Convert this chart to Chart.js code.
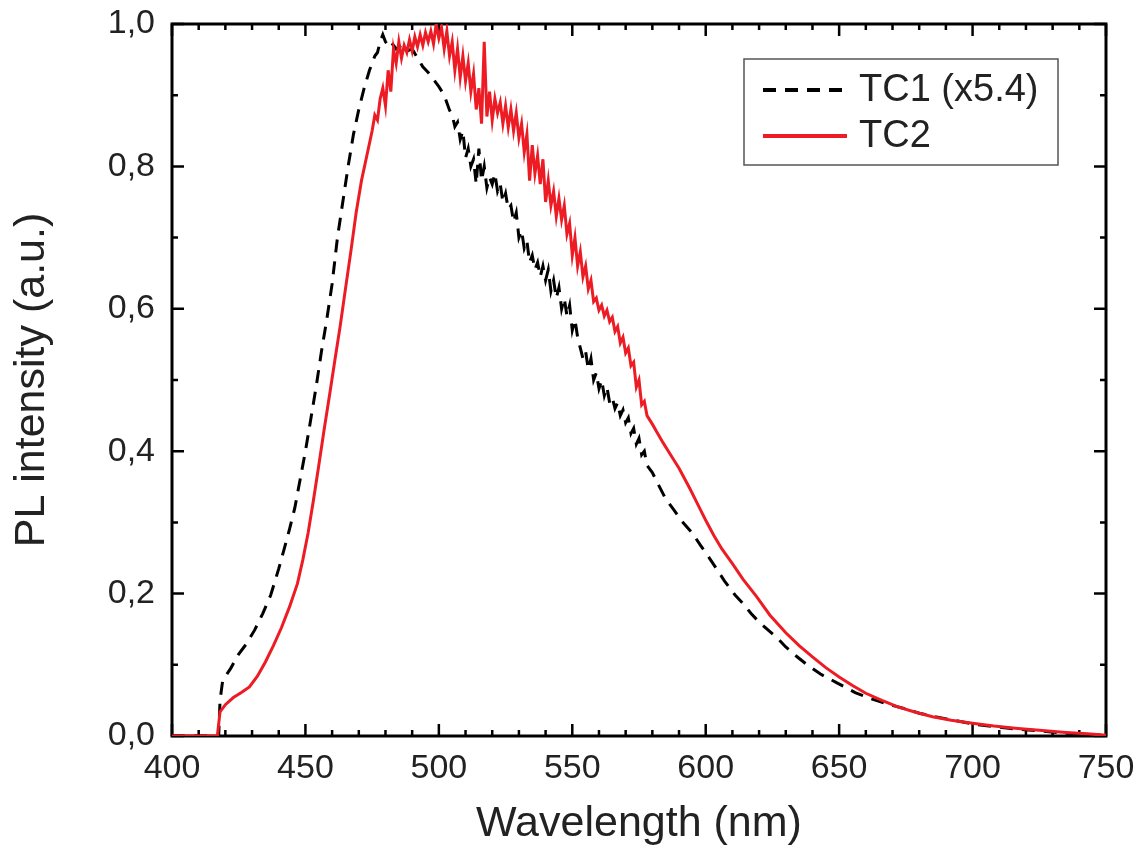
<!DOCTYPE html>
<html>
<head>
<meta charset="utf-8">
<title>PL spectra TC1 / TC2</title>
<script src="https://cdn.jsdelivr.net/npm/chart.js@4.4.1/dist/chart.umd.min.js"></script>
<style>
  html, body { margin: 0; padding: 0; background: #fff; }
  #plChart { display: block; }
</style>
</head>
<body>
<canvas id="plChart" width="1141" height="850"></canvas>
<script>
// values (wavelength in nm, intensity in a.u.)
const wlTC1 = [400, 417.5, 418, 419, 422, 425, 428, 431, 434, 437, 440, 442, 444, 446, 448, 450, 452, 454, 456, 458,
  460, 462, 464, 466, 468, 470, 472, 474, 476, 477, 478, 479, 480, 481, 482, 484, 486, 488, 490, 492,
  494, 496, 498, 500, 502, 504, 505, 506, 507, 508, 509, 510, 511, 512, 513, 514, 515, 516, 517, 518,
  519, 520, 521, 522, 523, 524, 525, 526, 527, 528, 529, 530, 531, 532, 533, 534, 535, 536, 537, 538,
  539, 540, 541, 542, 543, 544, 545, 546, 547, 548, 549, 550, 551, 552, 553, 554, 555, 556, 557, 558,
  559, 560, 561, 562, 563, 564, 565, 566, 567, 568, 569, 570, 571, 572, 573, 574, 575, 576, 577, 578,
  580, 582, 585, 588, 591, 595, 598, 601, 604, 607, 611, 614, 617, 620, 623, 627, 630, 634, 638, 643,
  649, 656, 663, 669, 675, 680, 686, 693, 700, 708, 716, 725, 735, 743, 750];
const tc1 = [0, 0, 0.05, 0.078, 0.095, 0.115, 0.13, 0.149, 0.172, 0.198, 0.235, 0.262, 0.29, 0.32, 0.36, 0.4, 0.445, 0.49, 0.54, 0.585,
  0.635, 0.7, 0.75, 0.8, 0.845, 0.88, 0.91, 0.935, 0.955, 0.96, 0.975, 0.985, 0.975, 0.97, 0.975, 0.965, 0.97, 0.962, 0.965, 0.952,
  0.94, 0.932, 0.922, 0.912, 0.9, 0.879, 0.872, 0.856, 0.862, 0.838, 0.85, 0.812, 0.825, 0.8, 0.81, 0.775, 0.825, 0.78, 0.8, 0.77,
  0.785, 0.775, 0.79, 0.765, 0.775, 0.75, 0.762, 0.74, 0.745, 0.722, 0.735, 0.7, 0.71, 0.685, 0.695, 0.665, 0.675, 0.655, 0.665, 0.645,
  0.66, 0.64, 0.655, 0.625, 0.64, 0.615, 0.63, 0.6, 0.615, 0.59, 0.605, 0.57, 0.585, 0.56, 0.545, 0.53, 0.54, 0.515, 0.53, 0.5,
  0.51, 0.488, 0.5, 0.478, 0.49, 0.468, 0.475, 0.46, 0.468, 0.45, 0.458, 0.44, 0.447, 0.425, 0.432, 0.41, 0.418, 0.395, 0.4, 0.38,
  0.37, 0.355, 0.333, 0.318, 0.302, 0.285, 0.268, 0.252, 0.235, 0.218, 0.198, 0.186, 0.172, 0.16, 0.15, 0.137, 0.125, 0.112, 0.1, 0.087,
  0.075, 0.061, 0.051, 0.044, 0.038, 0.032, 0.027, 0.022, 0.017, 0.013, 0.01, 0.007, 0.004, 0.002, 0.001];

const wlTC2 = [400, 417, 418, 420, 423, 426, 429, 432, 435, 438, 441, 444, 447, 449, 451, 453, 455, 457, 459, 461,
  463, 465, 467, 469, 471, 473, 475, 476, 477, 478, 479, 480, 481, 482, 483, 484, 485, 486, 487, 488,
  489, 490, 491, 492, 493, 494, 495, 496, 497, 498, 499, 500, 501, 502, 503, 504, 505, 506, 507, 508,
  509, 510, 511, 512, 513, 514, 515, 516, 517, 518, 519, 520, 521, 522, 523, 524, 525, 526, 527, 528,
  529, 530, 531, 532, 533, 534, 535, 536, 537, 538, 539, 540, 541, 542, 543, 544, 545, 546, 547, 548,
  549, 550, 551, 552, 553, 554, 555, 556, 557, 558, 559, 560, 561, 562, 563, 564, 565, 566, 567, 568,
  569, 570, 571, 572, 573, 574, 575, 576, 577, 578, 580, 582, 584, 586, 588, 590, 592, 594, 596, 598,
  600, 603, 606, 610, 614, 619, 624, 630, 635, 640, 645, 650, 655, 660, 666, 672, 678, 685, 692, 700,
  708, 716, 725, 735, 743, 750];
const tc2 = [0, 0, 0.034, 0.044, 0.054, 0.061, 0.069, 0.084, 0.104, 0.127, 0.152, 0.181, 0.214, 0.247, 0.285, 0.331, 0.38, 0.43, 0.478, 0.527,
  0.575, 0.628, 0.68, 0.735, 0.78, 0.815, 0.85, 0.872, 0.865, 0.895, 0.91, 0.885, 0.935, 0.905, 0.965, 0.945, 0.975, 0.952, 0.97, 0.96,
  0.978, 0.962, 0.982, 0.968, 0.985, 0.97, 0.988, 0.975, 0.99, 0.972, 1.0, 0.98, 0.995, 0.965, 0.99, 0.955, 0.975, 0.935, 0.965, 0.925,
  0.955, 0.92, 0.945, 0.905, 0.93, 0.88, 0.91, 0.86, 0.975, 0.87, 0.905, 0.865, 0.895, 0.875, 0.89, 0.86, 0.885, 0.855, 0.88, 0.85,
  0.875, 0.84, 0.86, 0.82, 0.845, 0.78, 0.83, 0.79, 0.815, 0.775, 0.81, 0.75, 0.78, 0.745, 0.765, 0.73, 0.755, 0.725, 0.745, 0.705,
  0.72, 0.675, 0.7, 0.66, 0.68, 0.645, 0.66, 0.628, 0.64, 0.61, 0.615, 0.598, 0.605, 0.59, 0.598, 0.582, 0.588, 0.568, 0.575, 0.552,
  0.56, 0.538, 0.545, 0.52, 0.525, 0.49, 0.5, 0.465, 0.47, 0.45, 0.438, 0.425, 0.412, 0.4, 0.388, 0.376, 0.362, 0.348, 0.333, 0.318,
  0.303, 0.282, 0.263, 0.242, 0.22, 0.196, 0.17, 0.145, 0.127, 0.111, 0.096, 0.083, 0.071, 0.06, 0.05, 0.041, 0.034, 0.027, 0.022, 0.018,
  0.014, 0.011, 0.008, 0.005, 0.003, 0.001];

const xTicks = [400, 450, 500, 550, 600, 650, 700, 750];
const yTicks = ['0,0', '0,2', '0,4', '0,6', '0,8', '1,0'];
const legendLabels = ['TC1 (x5.4)', 'TC2'];

const FONT = 'Arial, "Liberation Sans", Helvetica, sans-serif';

function toPoints(xs, ys) {
    return xs.map((x, i) => ({ x: x, y: ys[i] }));
}

// box frame with inward ticks on all four sides, plus the boxed legend
const frameTicks = {
    id: 'frameTicks',
    beforeDatasetsDraw(chart) {
        const { ctx, chartArea: a, scales } = chart;
        const xs = scales.x, ys = scales.y;
        ctx.save();
        ctx.strokeStyle = '#000';
        ctx.lineWidth = 2.5;
        ctx.beginPath();
        for (let v = 400; v <= 750; v += 10) {
            const px = xs.getPixelForValue(v);
            const len = v % 50 === 0 ? 12 : 6;
            ctx.moveTo(px, a.bottom); ctx.lineTo(px, a.bottom - len);
            ctx.moveTo(px, a.top); ctx.lineTo(px, a.top + len);
        }
        for (let i = 0; i <= 10; i++) {
            const py = ys.getPixelForValue(i / 10);
            const len = i % 2 === 0 ? 12 : 6;
            ctx.moveTo(a.left, py); ctx.lineTo(a.left + len, py);
            ctx.moveTo(a.right, py); ctx.lineTo(a.right - len, py);
        }
        ctx.stroke();
        ctx.lineWidth = 3;
        ctx.strokeRect(a.left, a.top, a.right - a.left, a.bottom - a.top);
        ctx.restore();
    },
    afterDraw(chart) {
        const ctx = chart.ctx;
        const bx = 744, by = 59, bw = 314, bh = 106;
        ctx.save();
        ctx.fillStyle = '#fff';
        ctx.fillRect(bx, by, bw, bh);
        ctx.strokeStyle = '#555';
        ctx.lineWidth = 1.5;
        ctx.strokeRect(bx, by, bw, bh);
        ctx.font = '38px ' + FONT;
        ctx.textBaseline = 'middle';
        chart.data.datasets.forEach((ds, i) => {
            const cy = by + 31 + i * 46;
            ctx.strokeStyle = ds.borderColor;
            ctx.lineWidth = ds.borderWidth + 1;
            ctx.setLineDash(ds.borderDash || []);
            ctx.beginPath();
            ctx.moveTo(763, cy); ctx.lineTo(847, cy);
            ctx.stroke();
            ctx.setLineDash([]);
            ctx.fillStyle = '#222';
            ctx.fillText(legendLabels[i], 859, cy + 1);
        });
        ctx.restore();
    }
};

const ctx = document.getElementById('plChart').getContext('2d');
const chart = new Chart(ctx, {
    type: 'line',
    data: {
        datasets: [
            {
                label: legendLabels[0],
                data: toPoints(wlTC1, tc1),
                borderColor: '#000',
                borderWidth: 3,
                borderDash: [13, 9],
                pointRadius: 0,
                tension: 0,
                order: 1
            },
            {
                label: legendLabels[1],
                data: toPoints(wlTC2, tc2),
                borderColor: 'rgb(237, 28, 36)',
                borderWidth: 3,
                pointRadius: 0,
                tension: 0,
                order: 0
            }
        ]
    },
    options: {
        responsive: false,
        animation: false,
        layout: { padding: { top: 24, right: 35, left: 0, bottom: 0 } },
        plugins: {
            legend: { display: false },
            tooltip: { enabled: false }
        },
        scales: {
            x: {
                type: 'linear',
                min: 400,
                max: 750,
                afterBuildTicks: s => { s.ticks = xTicks.map(v => ({ value: v })); },
                afterFit: s => { s.height = 114; s.paddingLeft = 0; s.paddingRight = 0; },
                grid: { display: false, drawTicks: false },
                border: { display: false },
                ticks: {
                    color: '#222',
                    padding: 12,
                    maxRotation: 0,
                    font: { family: FONT, size: 34 }
                },
                title: {
                    display: true,
                    text: 'Wavelength (nm)',
                    color: '#222',
                    padding: { top: 18, bottom: 0 },
                    font: { family: FONT, size: 43 }
                }
            },
            y: {
                min: 0,
                max: 1,
                afterBuildTicks: s => { s.ticks = yTicks.map((t, i) => ({ value: i * 0.2 })); },
                afterFit: s => { s.width = 172; s.paddingTop = 0; s.paddingBottom = 0; },
                grid: { display: false, drawTicks: false },
                border: { display: false },
                ticks: {
                    color: '#222',
                    padding: 17,
                    font: { family: FONT, size: 34 },
                    callback: (v, i) => yTicks[i]
                },
                title: {
                    display: true,
                    text: 'PL intensity (a.u.)',
                    color: '#222',
                    padding: { top: 6, bottom: 0 },
                    font: { family: FONT, size: 43 }
                }
            }
        }
    },
    plugins: [frameTicks]
});
</script>
</body>
</html>
